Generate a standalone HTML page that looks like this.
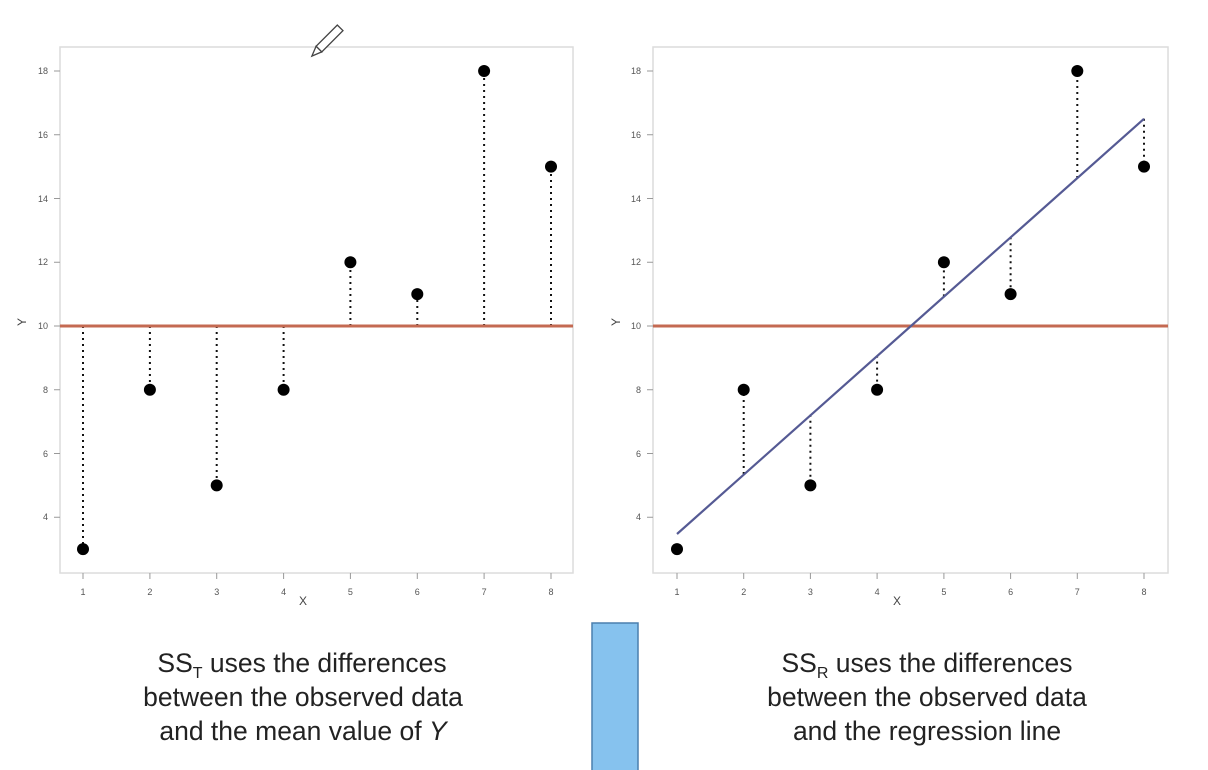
<!DOCTYPE html>
<html><head><meta charset="utf-8"><style>
html,body{margin:0;padding:0;background:#fff;}
svg{display:block;font-family:"Liberation Sans",Arial,sans-serif;}
</style></head><body>
<svg width="1208" height="770" viewBox="0 0 1208 770">
<g id="L">
<rect x="60" y="47" width="513" height="526" fill="#fff" stroke="#dcdcdc" stroke-width="1.5"/>
<g stroke="#999" stroke-width="1">
<line x1="54" y1="71" x2="60" y2="71"/><line x1="54" y1="134.75" x2="60" y2="134.75"/><line x1="54" y1="198.5" x2="60" y2="198.5"/><line x1="54" y1="262.25" x2="60" y2="262.25"/><line x1="54" y1="326" x2="60" y2="326"/><line x1="54" y1="389.75" x2="60" y2="389.75"/><line x1="54" y1="453.5" x2="60" y2="453.5"/><line x1="54" y1="517.25" x2="60" y2="517.25"/>
<line x1="83" y1="573" x2="83" y2="579"/><line x1="149.9" y1="573" x2="149.9" y2="579"/><line x1="216.7" y1="573" x2="216.7" y2="579"/><line x1="283.6" y1="573" x2="283.6" y2="579"/><line x1="350.4" y1="573" x2="350.4" y2="579"/><line x1="417.3" y1="573" x2="417.3" y2="579"/><line x1="484.1" y1="573" x2="484.1" y2="579"/><line x1="551" y1="573" x2="551" y2="579"/>
</g>
<g font-size="9" fill="#555" text-anchor="end">
<text x="48" y="74">18</text><text x="48" y="138">16</text><text x="48" y="202">14</text><text x="48" y="265">12</text><text x="48" y="329">10</text><text x="48" y="393">8</text><text x="48" y="457">6</text><text x="48" y="520">4</text>
</g>
<g font-size="9" fill="#555" text-anchor="middle">
<text x="83" y="595">1</text><text x="149.9" y="595">2</text><text x="216.7" y="595">3</text><text x="283.6" y="595">4</text><text x="350.4" y="595">5</text><text x="417.3" y="595">6</text><text x="484.1" y="595">7</text><text x="551" y="595">8</text>
</g>
<text x="303" y="605" font-size="12" fill="#444" text-anchor="middle">X</text>
<text transform="translate(26,322) rotate(-90)" font-size="12" fill="#444" text-anchor="middle">Y</text>
<g stroke="#111" stroke-width="2" stroke-dasharray="2,4">
<line x1="83" y1="326" x2="83" y2="549"/><line x1="149.9" y1="326" x2="149.9" y2="390"/><line x1="216.7" y1="326" x2="216.7" y2="485"/><line x1="283.6" y1="326" x2="283.6" y2="390"/><line x1="350.4" y1="326" x2="350.4" y2="262"/><line x1="417.3" y1="326" x2="417.3" y2="294"/><line x1="484.1" y1="326" x2="484.1" y2="71"/><line x1="551" y1="326" x2="551" y2="167"/>
</g>
<line x1="60" y1="326" x2="573" y2="326" stroke="#c46a52" stroke-width="3"/>
<g fill="#000">
<circle cx="83" cy="549.1" r="6"/><circle cx="149.9" cy="389.75" r="6"/><circle cx="216.7" cy="485.4" r="6"/><circle cx="283.6" cy="389.75" r="6"/><circle cx="350.4" cy="262.25" r="6"/><circle cx="417.3" cy="294.1" r="6"/><circle cx="484.1" cy="71" r="6"/><circle cx="551" cy="166.6" r="6"/>
</g>
</g>
<g id="R">
<rect x="653" y="47" width="515" height="526" fill="#fff" stroke="#dcdcdc" stroke-width="1.5"/>
<g stroke="#999" stroke-width="1">
<line x1="647" y1="71" x2="653" y2="71"/><line x1="647" y1="134.75" x2="653" y2="134.75"/><line x1="647" y1="198.5" x2="653" y2="198.5"/><line x1="647" y1="262.25" x2="653" y2="262.25"/><line x1="647" y1="326" x2="653" y2="326"/><line x1="647" y1="389.75" x2="653" y2="389.75"/><line x1="647" y1="453.5" x2="653" y2="453.5"/><line x1="647" y1="517.25" x2="653" y2="517.25"/>
<line x1="677" y1="573" x2="677" y2="579"/><line x1="743.7" y1="573" x2="743.7" y2="579"/><line x1="810.4" y1="573" x2="810.4" y2="579"/><line x1="877.1" y1="573" x2="877.1" y2="579"/><line x1="943.9" y1="573" x2="943.9" y2="579"/><line x1="1010.6" y1="573" x2="1010.6" y2="579"/><line x1="1077.3" y1="573" x2="1077.3" y2="579"/><line x1="1144" y1="573" x2="1144" y2="579"/>
</g>
<g font-size="9" fill="#555" text-anchor="end">
<text x="641" y="74">18</text><text x="641" y="138">16</text><text x="641" y="202">14</text><text x="641" y="265">12</text><text x="641" y="329">10</text><text x="641" y="393">8</text><text x="641" y="457">6</text><text x="641" y="520">4</text>
</g>
<g font-size="9" fill="#555" text-anchor="middle">
<text x="677" y="595">1</text><text x="743.7" y="595">2</text><text x="810.4" y="595">3</text><text x="877.1" y="595">4</text><text x="943.9" y="595">5</text><text x="1010.6" y="595">6</text><text x="1077.3" y="595">7</text><text x="1144" y="595">8</text>
</g>
<text x="897" y="605" font-size="12" fill="#444" text-anchor="middle">X</text>
<text transform="translate(620,322) rotate(-90)" font-size="12" fill="#444" text-anchor="middle">Y</text>
<line x1="653" y1="326" x2="1168" y2="326" stroke="#c46a52" stroke-width="3"/>
<g stroke="#111" stroke-width="2" stroke-dasharray="2,4">
<line x1="743.7" y1="474" x2="743.7" y2="390"/><line x1="810.4" y1="414.8" x2="810.4" y2="485"/><line x1="877.1" y1="355.6" x2="877.1" y2="390"/><line x1="943.9" y1="296.4" x2="943.9" y2="262"/><line x1="1010.6" y1="237.2" x2="1010.6" y2="294"/><line x1="1077.3" y1="178" x2="1077.3" y2="71"/><line x1="1144" y1="118.8" x2="1144" y2="167"/>
</g>
<line x1="677" y1="534" x2="1144" y2="118.8" stroke="#555a94" stroke-width="2.2"/>
<g fill="#000">
<circle cx="677" cy="549.1" r="6"/><circle cx="743.7" cy="389.75" r="6"/><circle cx="810.4" cy="485.4" r="6"/><circle cx="877.1" cy="389.75" r="6"/><circle cx="943.9" cy="262.25" r="6"/><circle cx="1010.6" cy="294.1" r="6"/><circle cx="1077.3" cy="71" r="6"/><circle cx="1144" cy="166.6" r="6"/>
</g>
</g>
<g transform="translate(326,42) rotate(45)">
<rect x="-4" y="-20" width="8" height="30" fill="#fff" stroke="#444" stroke-width="1.3"/>
<path d="M-4,10 L0,20 L4,10 Z" fill="#fff" stroke="#444" stroke-width="1.3"/>
</g>
<rect x="592" y="623" width="46" height="150" fill="#86c2ee" stroke="#4a7fae" stroke-width="1.5"/>
<g font-size="26.5" fill="#222" text-anchor="middle">
<text x="302" y="672">SS<tspan font-size="16" dy="6">T</tspan><tspan dy="-6"> uses the differences</tspan></text>
<text x="303" y="706">between the observed data</text>
<text x="303" y="740">and the mean value of <tspan font-style="italic">Y</tspan></text>
<text x="927" y="672">SS<tspan font-size="16" dy="6">R</tspan><tspan dy="-6"> uses the differences</tspan></text>
<text x="927" y="706">between the observed data</text>
<text x="927" y="740">and the regression line</text>
</g>
</svg>
</body></html>
